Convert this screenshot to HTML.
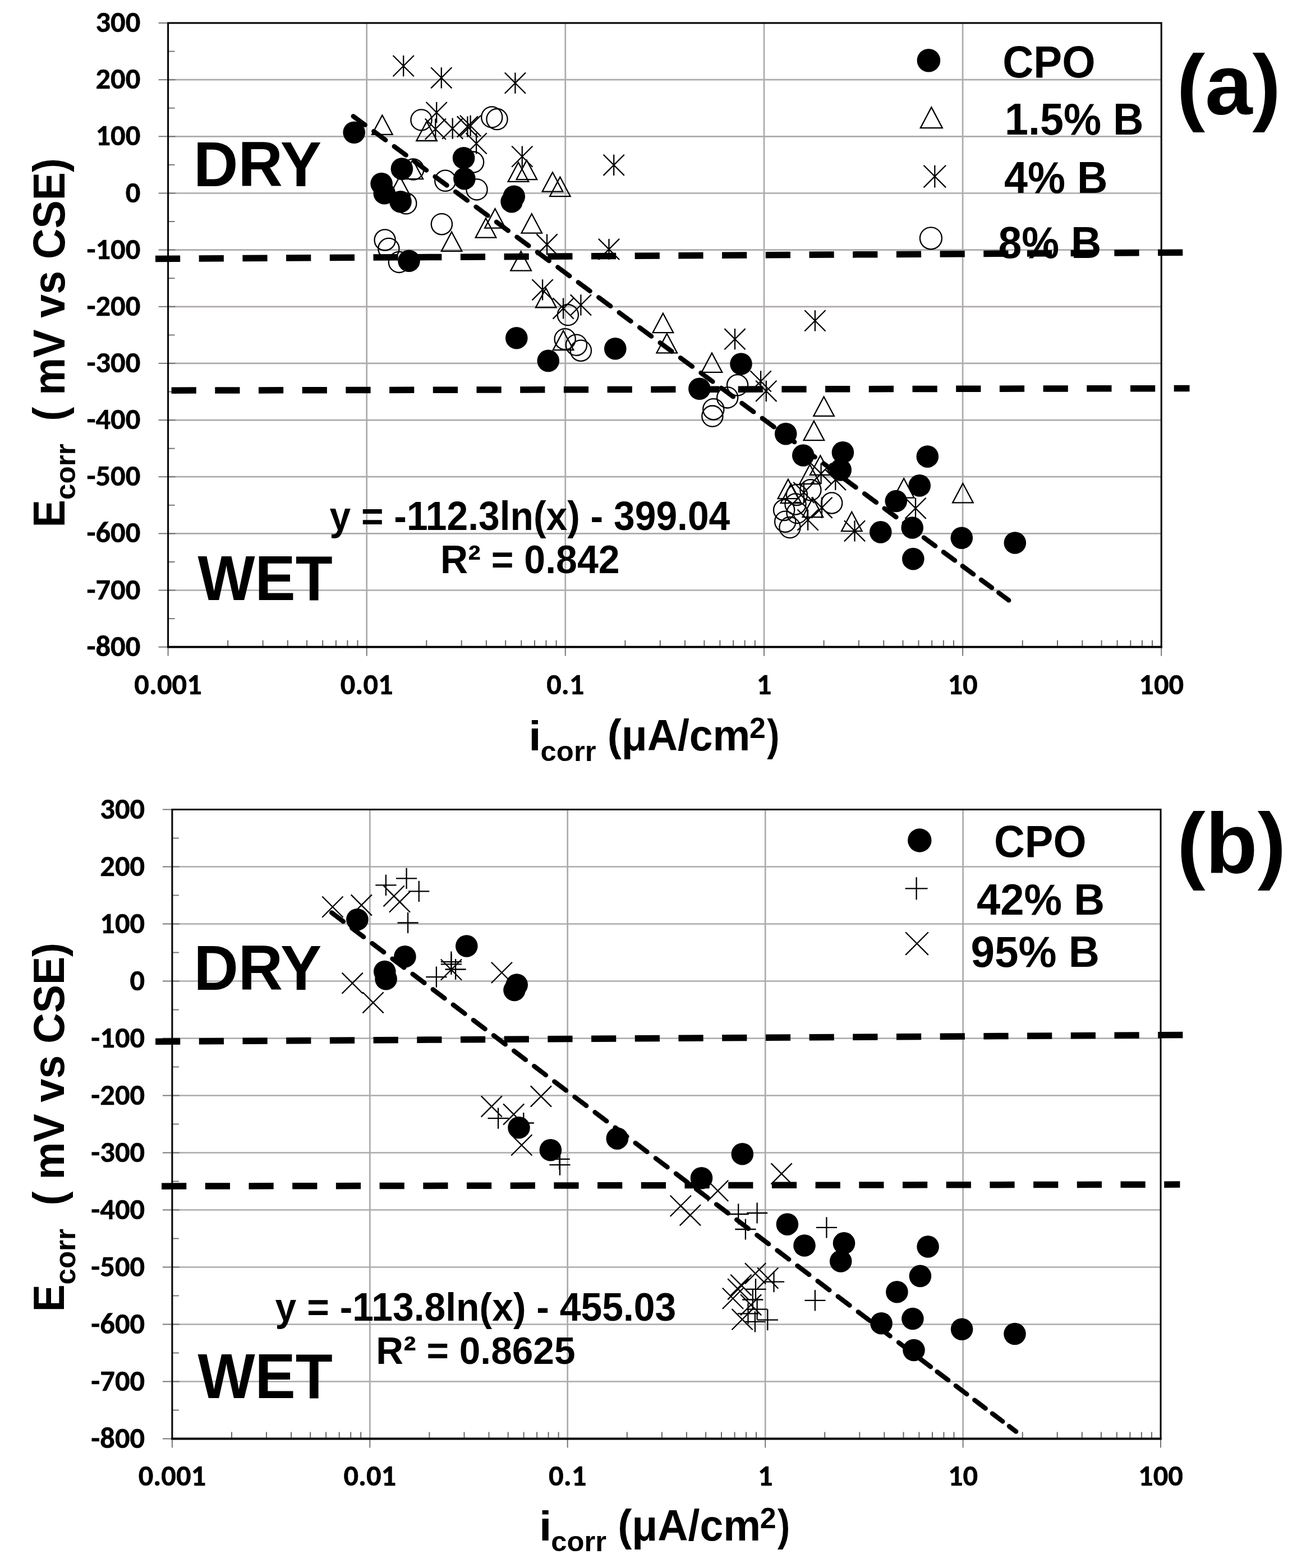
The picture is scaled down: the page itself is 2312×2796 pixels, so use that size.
<!DOCTYPE html><html><head><meta charset="utf-8"><title>Ecorr vs icorr</title><style>html,body{margin:0;padding:0;background:#fff;overflow:hidden}svg{display:block}text{font-weight:bold;fill:#000}.t{font-family:Carlito,"Liberation Sans",sans-serif;font-size:52.5px;stroke:#000;stroke-width:0.55px}.a{font-family:"Liberation Sans",Arial,sans-serif}</style></head><body>
<svg width="2312" height="2796" viewBox="0 0 2312 2796">
<rect width="2312" height="2796" fill="#fff"/>
<line x1="299.6" y1="41" x2="2070.2" y2="41" stroke="#adaaaa" stroke-width="2.7"/>
<line x1="299.6" y1="142.2" x2="2070.2" y2="142.2" stroke="#adaaaa" stroke-width="2.7"/>
<line x1="299.6" y1="243.3" x2="2070.2" y2="243.3" stroke="#adaaaa" stroke-width="2.7"/>
<line x1="299.6" y1="344.5" x2="2070.2" y2="344.5" stroke="#adaaaa" stroke-width="2.7"/>
<line x1="299.6" y1="445.6" x2="2070.2" y2="445.6" stroke="#adaaaa" stroke-width="2.7"/>
<line x1="299.6" y1="546.8" x2="2070.2" y2="546.8" stroke="#adaaaa" stroke-width="2.7"/>
<line x1="299.6" y1="647.9" x2="2070.2" y2="647.9" stroke="#adaaaa" stroke-width="2.7"/>
<line x1="299.6" y1="749.1" x2="2070.2" y2="749.1" stroke="#adaaaa" stroke-width="2.7"/>
<line x1="299.6" y1="850.2" x2="2070.2" y2="850.2" stroke="#adaaaa" stroke-width="2.7"/>
<line x1="299.6" y1="951.4" x2="2070.2" y2="951.4" stroke="#adaaaa" stroke-width="2.7"/>
<line x1="299.6" y1="1052.5" x2="2070.2" y2="1052.5" stroke="#adaaaa" stroke-width="2.7"/>
<line x1="653.7" y1="41" x2="653.7" y2="1153.7" stroke="#adaaaa" stroke-width="2.7"/>
<line x1="1007.8" y1="41" x2="1007.8" y2="1153.7" stroke="#adaaaa" stroke-width="2.7"/>
<line x1="1362" y1="41" x2="1362" y2="1153.7" stroke="#adaaaa" stroke-width="2.7"/>
<line x1="1716.1" y1="41" x2="1716.1" y2="1153.7" stroke="#adaaaa" stroke-width="2.7"/>
<line x1="282.6" y1="41" x2="312.6" y2="41" stroke="#777" stroke-width="2"/>
<line x1="299.6" y1="91.6" x2="311.6" y2="91.6" stroke="#777" stroke-width="2"/>
<line x1="282.6" y1="142.2" x2="312.6" y2="142.2" stroke="#777" stroke-width="2"/>
<line x1="299.6" y1="192.7" x2="311.6" y2="192.7" stroke="#777" stroke-width="2"/>
<line x1="282.6" y1="243.3" x2="312.6" y2="243.3" stroke="#777" stroke-width="2"/>
<line x1="299.6" y1="293.9" x2="311.6" y2="293.9" stroke="#777" stroke-width="2"/>
<line x1="282.6" y1="344.5" x2="312.6" y2="344.5" stroke="#777" stroke-width="2"/>
<line x1="299.6" y1="395" x2="311.6" y2="395" stroke="#777" stroke-width="2"/>
<line x1="282.6" y1="445.6" x2="312.6" y2="445.6" stroke="#777" stroke-width="2"/>
<line x1="299.6" y1="496.2" x2="311.6" y2="496.2" stroke="#777" stroke-width="2"/>
<line x1="282.6" y1="546.8" x2="312.6" y2="546.8" stroke="#777" stroke-width="2"/>
<line x1="299.6" y1="597.4" x2="311.6" y2="597.4" stroke="#777" stroke-width="2"/>
<line x1="282.6" y1="647.9" x2="312.6" y2="647.9" stroke="#777" stroke-width="2"/>
<line x1="299.6" y1="698.5" x2="311.6" y2="698.5" stroke="#777" stroke-width="2"/>
<line x1="282.6" y1="749.1" x2="312.6" y2="749.1" stroke="#777" stroke-width="2"/>
<line x1="299.6" y1="799.7" x2="311.6" y2="799.7" stroke="#777" stroke-width="2"/>
<line x1="282.6" y1="850.2" x2="312.6" y2="850.2" stroke="#777" stroke-width="2"/>
<line x1="299.6" y1="900.8" x2="311.6" y2="900.8" stroke="#777" stroke-width="2"/>
<line x1="282.6" y1="951.4" x2="312.6" y2="951.4" stroke="#777" stroke-width="2"/>
<line x1="299.6" y1="1002" x2="311.6" y2="1002" stroke="#777" stroke-width="2"/>
<line x1="282.6" y1="1052.5" x2="312.6" y2="1052.5" stroke="#777" stroke-width="2"/>
<line x1="299.6" y1="1103.1" x2="311.6" y2="1103.1" stroke="#777" stroke-width="2"/>
<line x1="282.6" y1="1153.7" x2="312.6" y2="1153.7" stroke="#777" stroke-width="2"/>
<line x1="299.6" y1="1153.7" x2="299.6" y2="1169.7" stroke="#777" stroke-width="2"/>
<line x1="406.2" y1="1153.7" x2="406.2" y2="1141.7" stroke="#666" stroke-width="2"/>
<line x1="468.6" y1="1153.7" x2="468.6" y2="1141.7" stroke="#666" stroke-width="2"/>
<line x1="512.8" y1="1153.7" x2="512.8" y2="1141.7" stroke="#666" stroke-width="2"/>
<line x1="547.1" y1="1153.7" x2="547.1" y2="1141.7" stroke="#666" stroke-width="2"/>
<line x1="575.2" y1="1153.7" x2="575.2" y2="1141.7" stroke="#666" stroke-width="2"/>
<line x1="598.9" y1="1153.7" x2="598.9" y2="1141.7" stroke="#666" stroke-width="2"/>
<line x1="619.4" y1="1153.7" x2="619.4" y2="1141.7" stroke="#666" stroke-width="2"/>
<line x1="637.5" y1="1153.7" x2="637.5" y2="1141.7" stroke="#666" stroke-width="2"/>
<line x1="653.7" y1="1153.7" x2="653.7" y2="1169.7" stroke="#777" stroke-width="2"/>
<line x1="760.3" y1="1153.7" x2="760.3" y2="1141.7" stroke="#666" stroke-width="2"/>
<line x1="822.7" y1="1153.7" x2="822.7" y2="1141.7" stroke="#666" stroke-width="2"/>
<line x1="866.9" y1="1153.7" x2="866.9" y2="1141.7" stroke="#666" stroke-width="2"/>
<line x1="901.2" y1="1153.7" x2="901.2" y2="1141.7" stroke="#666" stroke-width="2"/>
<line x1="929.3" y1="1153.7" x2="929.3" y2="1141.7" stroke="#666" stroke-width="2"/>
<line x1="953" y1="1153.7" x2="953" y2="1141.7" stroke="#666" stroke-width="2"/>
<line x1="973.5" y1="1153.7" x2="973.5" y2="1141.7" stroke="#666" stroke-width="2"/>
<line x1="991.6" y1="1153.7" x2="991.6" y2="1141.7" stroke="#666" stroke-width="2"/>
<line x1="1007.8" y1="1153.7" x2="1007.8" y2="1169.7" stroke="#777" stroke-width="2"/>
<line x1="1114.4" y1="1153.7" x2="1114.4" y2="1141.7" stroke="#666" stroke-width="2"/>
<line x1="1176.8" y1="1153.7" x2="1176.8" y2="1141.7" stroke="#666" stroke-width="2"/>
<line x1="1221" y1="1153.7" x2="1221" y2="1141.7" stroke="#666" stroke-width="2"/>
<line x1="1255.4" y1="1153.7" x2="1255.4" y2="1141.7" stroke="#666" stroke-width="2"/>
<line x1="1283.4" y1="1153.7" x2="1283.4" y2="1141.7" stroke="#666" stroke-width="2"/>
<line x1="1307.1" y1="1153.7" x2="1307.1" y2="1141.7" stroke="#666" stroke-width="2"/>
<line x1="1327.6" y1="1153.7" x2="1327.6" y2="1141.7" stroke="#666" stroke-width="2"/>
<line x1="1345.8" y1="1153.7" x2="1345.8" y2="1141.7" stroke="#666" stroke-width="2"/>
<line x1="1362" y1="1153.7" x2="1362" y2="1169.7" stroke="#777" stroke-width="2"/>
<line x1="1468.6" y1="1153.7" x2="1468.6" y2="1141.7" stroke="#666" stroke-width="2"/>
<line x1="1530.9" y1="1153.7" x2="1530.9" y2="1141.7" stroke="#666" stroke-width="2"/>
<line x1="1575.2" y1="1153.7" x2="1575.2" y2="1141.7" stroke="#666" stroke-width="2"/>
<line x1="1609.5" y1="1153.7" x2="1609.5" y2="1141.7" stroke="#666" stroke-width="2"/>
<line x1="1637.5" y1="1153.7" x2="1637.5" y2="1141.7" stroke="#666" stroke-width="2"/>
<line x1="1661.2" y1="1153.7" x2="1661.2" y2="1141.7" stroke="#666" stroke-width="2"/>
<line x1="1681.8" y1="1153.7" x2="1681.8" y2="1141.7" stroke="#666" stroke-width="2"/>
<line x1="1699.9" y1="1153.7" x2="1699.9" y2="1141.7" stroke="#666" stroke-width="2"/>
<line x1="1716.1" y1="1153.7" x2="1716.1" y2="1169.7" stroke="#777" stroke-width="2"/>
<line x1="1822.7" y1="1153.7" x2="1822.7" y2="1141.7" stroke="#666" stroke-width="2"/>
<line x1="1885" y1="1153.7" x2="1885" y2="1141.7" stroke="#666" stroke-width="2"/>
<line x1="1929.3" y1="1153.7" x2="1929.3" y2="1141.7" stroke="#666" stroke-width="2"/>
<line x1="1963.6" y1="1153.7" x2="1963.6" y2="1141.7" stroke="#666" stroke-width="2"/>
<line x1="1991.6" y1="1153.7" x2="1991.6" y2="1141.7" stroke="#666" stroke-width="2"/>
<line x1="2015.3" y1="1153.7" x2="2015.3" y2="1141.7" stroke="#666" stroke-width="2"/>
<line x1="2035.9" y1="1153.7" x2="2035.9" y2="1141.7" stroke="#666" stroke-width="2"/>
<line x1="2054" y1="1153.7" x2="2054" y2="1141.7" stroke="#666" stroke-width="2"/>
<line x1="2070.2" y1="1153.7" x2="2070.2" y2="1169.7" stroke="#777" stroke-width="2"/>
<rect x="299.6" y="41" width="1770.6" height="1112.7" fill="none" stroke="#000" stroke-width="3"/>
<line x1="298.1" y1="1153.7" x2="2071.7" y2="1153.7" stroke="#000" stroke-width="3.8"/>
<text class="t" x="250.3" y="57" text-anchor="end" textLength="79.83" lengthAdjust="spacingAndGlyphs">300</text>
<text class="t" x="250.3" y="158.2" text-anchor="end" textLength="79.83" lengthAdjust="spacingAndGlyphs">200</text>
<text class="t" x="250.3" y="259.3" text-anchor="end" textLength="79.83" lengthAdjust="spacingAndGlyphs">100</text>
<text class="t" x="250.3" y="360.5" text-anchor="end" textLength="26.61" lengthAdjust="spacingAndGlyphs">0</text>
<text class="t" x="250.3" y="461.6" text-anchor="end" textLength="95.90" lengthAdjust="spacingAndGlyphs">-100</text>
<text class="t" x="250.3" y="562.8" text-anchor="end" textLength="95.90" lengthAdjust="spacingAndGlyphs">-200</text>
<text class="t" x="250.3" y="663.9" text-anchor="end" textLength="95.90" lengthAdjust="spacingAndGlyphs">-300</text>
<text class="t" x="250.3" y="765.1" text-anchor="end" textLength="95.90" lengthAdjust="spacingAndGlyphs">-400</text>
<text class="t" x="250.3" y="866.2" text-anchor="end" textLength="95.90" lengthAdjust="spacingAndGlyphs">-500</text>
<text class="t" x="250.3" y="967.4" text-anchor="end" textLength="95.90" lengthAdjust="spacingAndGlyphs">-600</text>
<text class="t" x="250.3" y="1068.5" text-anchor="end" textLength="95.90" lengthAdjust="spacingAndGlyphs">-700</text>
<text class="t" x="250.3" y="1169.7" text-anchor="end" textLength="95.90" lengthAdjust="spacingAndGlyphs">-800</text>
<text class="t" x="299.6" y="1238" text-anchor="middle" textLength="120.46" lengthAdjust="spacingAndGlyphs">0.001</text>
<text class="t" x="653.7" y="1238" text-anchor="middle" textLength="93.85" lengthAdjust="spacingAndGlyphs">0.01</text>
<text class="t" x="1007.8" y="1238" text-anchor="middle" textLength="67.24" lengthAdjust="spacingAndGlyphs">0.1</text>
<text class="t" x="1362" y="1238" text-anchor="middle" textLength="26.61" lengthAdjust="spacingAndGlyphs">1</text>
<text class="t" x="1716.1" y="1238" text-anchor="middle" textLength="53.22" lengthAdjust="spacingAndGlyphs">10</text>
<text class="t" x="2070.2" y="1238" text-anchor="middle" textLength="79.83" lengthAdjust="spacingAndGlyphs">100</text>
<circle cx="751" cy="213.9" r="18.6" fill="none" stroke="#000" stroke-width="2.3"/>
<circle cx="876.8" cy="208.9" r="18.6" fill="none" stroke="#000" stroke-width="2.3"/>
<circle cx="886" cy="212.6" r="18.6" fill="none" stroke="#000" stroke-width="2.3"/>
<circle cx="843.6" cy="289.1" r="18.6" fill="none" stroke="#000" stroke-width="2.3"/>
<circle cx="793.8" cy="322.3" r="18.6" fill="none" stroke="#000" stroke-width="2.3"/>
<circle cx="850" cy="337.9" r="18.6" fill="none" stroke="#000" stroke-width="2.3"/>
<circle cx="736.7" cy="302" r="18.6" fill="none" stroke="#000" stroke-width="2.3"/>
<circle cx="723.8" cy="362.8" r="18.6" fill="none" stroke="#000" stroke-width="2.3"/>
<circle cx="787.4" cy="399.7" r="18.6" fill="none" stroke="#000" stroke-width="2.3"/>
<circle cx="686.1" cy="428" r="18.6" fill="none" stroke="#000" stroke-width="2.3"/>
<circle cx="692.9" cy="443.5" r="18.6" fill="none" stroke="#000" stroke-width="2.3"/>
<circle cx="711.4" cy="467.4" r="18.6" fill="none" stroke="#000" stroke-width="2.3"/>
<circle cx="1012.4" cy="561.6" r="18.6" fill="none" stroke="#000" stroke-width="2.3"/>
<circle cx="1007.2" cy="604.7" r="18.6" fill="none" stroke="#000" stroke-width="2.3"/>
<circle cx="1027.4" cy="615.2" r="18.6" fill="none" stroke="#000" stroke-width="2.3"/>
<circle cx="1035.4" cy="625.2" r="18.6" fill="none" stroke="#000" stroke-width="2.3"/>
<circle cx="1314.6" cy="686.8" r="18.6" fill="none" stroke="#000" stroke-width="2.3"/>
<circle cx="1296.7" cy="708.9" r="18.6" fill="none" stroke="#000" stroke-width="2.3"/>
<circle cx="1271.8" cy="729.7" r="18.6" fill="none" stroke="#000" stroke-width="2.3"/>
<circle cx="1269.9" cy="742.1" r="18.6" fill="none" stroke="#000" stroke-width="2.3"/>
<circle cx="1444.9" cy="873.8" r="18.6" fill="none" stroke="#000" stroke-width="2.3"/>
<circle cx="1420.4" cy="882.5" r="18.6" fill="none" stroke="#000" stroke-width="2.3"/>
<circle cx="1418" cy="899" r="18.6" fill="none" stroke="#000" stroke-width="2.3"/>
<circle cx="1421" cy="914.6" r="18.6" fill="none" stroke="#000" stroke-width="2.3"/>
<circle cx="1397.6" cy="909.5" r="18.6" fill="none" stroke="#000" stroke-width="2.3"/>
<circle cx="1399.7" cy="930.2" r="18.6" fill="none" stroke="#000" stroke-width="2.3"/>
<circle cx="1408" cy="940.6" r="18.6" fill="none" stroke="#000" stroke-width="2.3"/>
<circle cx="1482.7" cy="897" r="18.6" fill="none" stroke="#000" stroke-width="2.3"/>
<path d="M681.4 205.5L699.7 239.9L663.1 239.9Z" fill="none" stroke="#000" stroke-width="2.3" stroke-miterlimit="10"/>
<path d="M760.6 216.6L778.9 251L742.3 251Z" fill="none" stroke="#000" stroke-width="2.3" stroke-miterlimit="10"/>
<path d="M735.8 284.8L754.1 319.2L717.5 319.2Z" fill="none" stroke="#000" stroke-width="2.3" stroke-miterlimit="10"/>
<path d="M712.7 314.3L731 348.7L694.4 348.7Z" fill="none" stroke="#000" stroke-width="2.3" stroke-miterlimit="10"/>
<path d="M882.5 372.3L900.8 406.7L864.2 406.7Z" fill="none" stroke="#000" stroke-width="2.3" stroke-miterlimit="10"/>
<path d="M866 389.2L884.3 423.6L847.7 423.6Z" fill="none" stroke="#000" stroke-width="2.3" stroke-miterlimit="10"/>
<path d="M924 289.5L942.3 323.9L905.7 323.9Z" fill="none" stroke="#000" stroke-width="2.3" stroke-miterlimit="10"/>
<path d="M938.9 285.8L957.2 320.2L920.6 320.2Z" fill="none" stroke="#000" stroke-width="2.3" stroke-miterlimit="10"/>
<path d="M985 307.3L1003.3 341.7L966.7 341.7Z" fill="none" stroke="#000" stroke-width="2.3" stroke-miterlimit="10"/>
<path d="M998.4 315.8L1016.7 350.2L980.1 350.2Z" fill="none" stroke="#000" stroke-width="2.3" stroke-miterlimit="10"/>
<path d="M947.8 381.2L966.1 415.6L929.5 415.6Z" fill="none" stroke="#000" stroke-width="2.3" stroke-miterlimit="10"/>
<path d="M805.1 413.5L823.4 447.9L786.8 447.9Z" fill="none" stroke="#000" stroke-width="2.3" stroke-miterlimit="10"/>
<path d="M928.7 448.3L947 482.7L910.4 482.7Z" fill="none" stroke="#000" stroke-width="2.3" stroke-miterlimit="10"/>
<path d="M973.2 514L991.5 548.4L954.9 548.4Z" fill="none" stroke="#000" stroke-width="2.3" stroke-miterlimit="10"/>
<path d="M1004.1 589.7L1022.4 624.1L985.8 624.1Z" fill="none" stroke="#000" stroke-width="2.3" stroke-miterlimit="10"/>
<path d="M1181.9 558.7L1200.2 593.1L1163.6 593.1Z" fill="none" stroke="#000" stroke-width="2.3" stroke-miterlimit="10"/>
<path d="M1188.8 595L1207.1 629.4L1170.5 629.4Z" fill="none" stroke="#000" stroke-width="2.3" stroke-miterlimit="10"/>
<path d="M1269 629.5L1287.3 663.9L1250.7 663.9Z" fill="none" stroke="#000" stroke-width="2.3" stroke-miterlimit="10"/>
<path d="M1468.6 707.5L1486.9 741.9L1450.3 741.9Z" fill="none" stroke="#000" stroke-width="2.3" stroke-miterlimit="10"/>
<path d="M1450.9 750.8L1469.2 785.2L1432.6 785.2Z" fill="none" stroke="#000" stroke-width="2.3" stroke-miterlimit="10"/>
<path d="M1611.2 853.3L1629.5 887.7L1592.9 887.7Z" fill="none" stroke="#000" stroke-width="2.3" stroke-miterlimit="10"/>
<path d="M1716.4 862L1734.7 896.4L1698.1 896.4Z" fill="none" stroke="#000" stroke-width="2.3" stroke-miterlimit="10"/>
<path d="M1518.3 912.8L1536.6 947.2L1500 947.2Z" fill="none" stroke="#000" stroke-width="2.3" stroke-miterlimit="10"/>
<path d="M1462.3 812.4L1480.6 846.8L1444 846.8Z" fill="none" stroke="#000" stroke-width="2.3" stroke-miterlimit="10"/>
<path d="M1443.7 828.4L1462 862.8L1425.4 862.8Z" fill="none" stroke="#000" stroke-width="2.3" stroke-miterlimit="10"/>
<path d="M1404.9 854.7L1423.2 889.1L1386.6 889.1Z" fill="none" stroke="#000" stroke-width="2.3" stroke-miterlimit="10"/>
<path d="M1410 862.8L1428.3 897.2L1391.7 897.2Z" fill="none" stroke="#000" stroke-width="2.3" stroke-miterlimit="10"/>
<path d="M1448.9 887.7L1467.2 922.1L1430.6 922.1Z" fill="none" stroke="#000" stroke-width="2.3" stroke-miterlimit="10"/>
<path d="M719.2 99V136.2M700.6 99L737.8 136.2M700.6 136.2L737.8 99" fill="none" stroke="#000" stroke-width="2.3"/>
<path d="M786.8 120.2V157.4M768.2 120.2L805.4 157.4M768.2 157.4L805.4 120.2" fill="none" stroke="#000" stroke-width="2.3"/>
<path d="M778.2 182V219.2M759.6 182L796.8 219.2M759.6 219.2L796.8 182" fill="none" stroke="#000" stroke-width="2.3"/>
<path d="M776.3 211.5V248.7M757.7 211.5L794.9 248.7M757.7 248.7L794.9 211.5" fill="none" stroke="#000" stroke-width="2.3"/>
<path d="M806.7 210.6V247.8M788.1 210.6L825.3 247.8M788.1 247.8L825.3 210.6" fill="none" stroke="#000" stroke-width="2.3"/>
<path d="M838.6 205.8V243M820 205.8L857.2 243M820 243L857.2 205.8" fill="none" stroke="#000" stroke-width="2.3"/>
<path d="M833.4 207.4V244.6M814.8 207.4L852 244.6M814.8 244.6L852 207.4" fill="none" stroke="#000" stroke-width="2.3"/>
<path d="M849.1 237.3V274.5M830.5 237.3L867.7 274.5M830.5 274.5L867.7 237.3" fill="none" stroke="#000" stroke-width="2.3"/>
<path d="M918.4 129.5V166.7M899.8 129.5L937 166.7M899.8 166.7L937 129.5" fill="none" stroke="#000" stroke-width="2.3"/>
<path d="M930.8 260.5V297.7M912.2 260.5L949.4 297.7M912.2 297.7L949.4 260.5" fill="none" stroke="#000" stroke-width="2.3"/>
<path d="M1094.2 275.7V312.9M1075.6 275.7L1112.8 312.9M1075.6 312.9L1112.8 275.7" fill="none" stroke="#000" stroke-width="2.3"/>
<path d="M975 417.4V454.6M956.4 417.4L993.6 454.6M956.4 454.6L993.6 417.4" fill="none" stroke="#000" stroke-width="2.3"/>
<path d="M1085.5 425.9V463.1M1066.9 425.9L1104.1 463.1M1066.9 463.1L1104.1 425.9" fill="none" stroke="#000" stroke-width="2.3"/>
<path d="M967.1 498.2V535.4M948.5 498.2L985.7 535.4M948.5 535.4L985.7 498.2" fill="none" stroke="#000" stroke-width="2.3"/>
<path d="M1004.1 531.4V568.6M985.5 531.4L1022.7 568.6M985.5 568.6L1022.7 531.4" fill="none" stroke="#000" stroke-width="2.3"/>
<path d="M1035.4 525.3V562.5M1016.8 525.3L1054 562.5M1016.8 562.5L1054 525.3" fill="none" stroke="#000" stroke-width="2.3"/>
<path d="M1310 586.1V623.3M1291.4 586.1L1328.6 623.3M1291.4 623.3L1328.6 586.1" fill="none" stroke="#000" stroke-width="2.3"/>
<path d="M1356.1 661.3V698.5M1337.5 661.3L1374.7 698.5M1337.5 698.5L1374.7 661.3" fill="none" stroke="#000" stroke-width="2.3"/>
<path d="M1365.8 678.7V715.9M1347.2 678.7L1384.4 715.9M1347.2 715.9L1384.4 678.7" fill="none" stroke="#000" stroke-width="2.3"/>
<path d="M1452.9 553.3V590.5M1434.3 553.3L1471.5 590.5M1434.3 590.5L1471.5 553.3" fill="none" stroke="#000" stroke-width="2.3"/>
<path d="M1463.6 825.9V863.1M1445 825.9L1482.2 863.1M1445 863.1L1482.2 825.9" fill="none" stroke="#000" stroke-width="2.3"/>
<path d="M1489.3 836.9V874.1M1470.7 836.9L1507.9 874.1M1470.7 874.1L1507.9 836.9" fill="none" stroke="#000" stroke-width="2.3"/>
<path d="M1432.9 859.7V896.9M1414.3 859.7L1451.5 896.9M1414.3 896.9L1451.5 859.7" fill="none" stroke="#000" stroke-width="2.3"/>
<path d="M1440.1 908.5V945.7M1421.5 908.5L1458.7 945.7M1421.5 945.7L1458.7 908.5" fill="none" stroke="#000" stroke-width="2.3"/>
<path d="M1465 886.7V923.9M1446.4 886.7L1483.6 923.9M1446.4 923.9L1483.6 886.7" fill="none" stroke="#000" stroke-width="2.3"/>
<path d="M1632 887.7V924.9M1613.4 887.7L1650.6 924.9M1613.4 924.9L1650.6 887.7" fill="none" stroke="#000" stroke-width="2.3"/>
<path d="M1523.5 928.2V965.4M1504.9 928.2L1542.1 965.4M1504.9 965.4L1542.1 928.2" fill="none" stroke="#000" stroke-width="2.3"/>
<circle cx="631.2" cy="236.2" r="19.8" fill="#000"/>
<circle cx="716.4" cy="301.1" r="19.8" fill="#000"/>
<circle cx="680.1" cy="327.5" r="19.8" fill="#000"/>
<circle cx="685.3" cy="344.7" r="19.8" fill="#000"/>
<circle cx="714" cy="359.7" r="19.8" fill="#000"/>
<circle cx="826.6" cy="281.7" r="19.8" fill="#000"/>
<circle cx="827.9" cy="318.6" r="19.8" fill="#000"/>
<circle cx="916.3" cy="350.3" r="19.8" fill="#000"/>
<circle cx="912.1" cy="359.6" r="19.8" fill="#000"/>
<circle cx="729" cy="465.3" r="19.8" fill="#000"/>
<circle cx="920.8" cy="602.8" r="19.8" fill="#000"/>
<circle cx="977.3" cy="643.4" r="19.8" fill="#000"/>
<circle cx="1096.8" cy="621.8" r="19.8" fill="#000"/>
<circle cx="1321" cy="649" r="19.8" fill="#000"/>
<circle cx="1246.9" cy="693.2" r="19.8" fill="#000"/>
<circle cx="1400.7" cy="773.6" r="19.8" fill="#000"/>
<circle cx="1431.8" cy="812" r="19.8" fill="#000"/>
<circle cx="1502.4" cy="806.8" r="19.8" fill="#000"/>
<circle cx="1498.2" cy="837.9" r="19.8" fill="#000"/>
<circle cx="1653.3" cy="814.1" r="19.8" fill="#000"/>
<circle cx="1639.2" cy="865.9" r="19.8" fill="#000"/>
<circle cx="1597.3" cy="893.5" r="19.8" fill="#000"/>
<circle cx="1569.8" cy="948.9" r="19.8" fill="#000"/>
<circle cx="1626.2" cy="941" r="19.8" fill="#000"/>
<circle cx="1714.3" cy="959.2" r="19.8" fill="#000"/>
<circle cx="1627.8" cy="996.6" r="19.8" fill="#000"/>
<circle cx="1809.3" cy="968" r="19.8" fill="#000"/>
<path d="M629.8 207.3L650.8 222.8M666.3 234.2L687.2 249.7M702.7 261.2L723.7 276.7M739.2 288.1L760.1 303.6M775.6 315L796.6 330.5M812.1 341.9L833 357.4M848.5 368.9L869.5 384.4M885 395.8L905.9 411.3M921.4 422.7L942.4 438.2M957.9 449.6L978.8 465.1M994.3 476.5L1015.3 492.1M1030.8 503.5L1051.7 519M1067.2 530.4L1088.2 545.9M1103.7 557.3L1124.6 572.8M1140.1 584.2L1161.1 599.7M1176.6 611.2L1197.5 626.7M1213 638.1L1234 653.6M1249.5 665L1270.4 680.5M1285.9 691.9L1306.9 707.4M1322.4 718.9L1343.3 734.4M1358.8 745.8L1379.8 761.3M1395.3 772.7L1416.2 788.2M1431.7 799.6L1452.7 815.1M1468.2 826.5L1489.1 842.1M1504.6 853.5L1525.6 869M1541.1 880.4L1562 895.9M1576.6 906.7L1597.4 922M1611.9 932.8L1632.1 947.6M1646.9 958.6L1667.1 973.5M1681.9 984.5L1702.1 999.3M1715.8 1009.5L1735.2 1023.8M1749 1034L1768 1048M1780.2 1057L1798.2 1070.4" fill="none" stroke="#000" stroke-width="8.4" stroke-linecap="round"/>
<line x1="277" y1="461.5" x2="2108.6" y2="450.3" stroke="#000" stroke-width="11.5" stroke-dasharray="44.2 33.5"/>
<line x1="305.6" y1="696.2" x2="2120.5" y2="692.5" stroke="#000" stroke-width="11.5" stroke-dasharray="44.2 33.5"/>
<line x1="306.9" y1="1443.5" x2="2069" y2="1443.5" stroke="#adaaaa" stroke-width="2.7"/>
<line x1="306.9" y1="1545.5" x2="2069" y2="1545.5" stroke="#adaaaa" stroke-width="2.7"/>
<line x1="306.9" y1="1647.5" x2="2069" y2="1647.5" stroke="#adaaaa" stroke-width="2.7"/>
<line x1="306.9" y1="1749.5" x2="2069" y2="1749.5" stroke="#adaaaa" stroke-width="2.7"/>
<line x1="306.9" y1="1851.5" x2="2069" y2="1851.5" stroke="#adaaaa" stroke-width="2.7"/>
<line x1="306.9" y1="1953.5" x2="2069" y2="1953.5" stroke="#adaaaa" stroke-width="2.7"/>
<line x1="306.9" y1="2055.5" x2="2069" y2="2055.5" stroke="#adaaaa" stroke-width="2.7"/>
<line x1="306.9" y1="2157.5" x2="2069" y2="2157.5" stroke="#adaaaa" stroke-width="2.7"/>
<line x1="306.9" y1="2259.5" x2="2069" y2="2259.5" stroke="#adaaaa" stroke-width="2.7"/>
<line x1="306.9" y1="2361.5" x2="2069" y2="2361.5" stroke="#adaaaa" stroke-width="2.7"/>
<line x1="306.9" y1="2463.5" x2="2069" y2="2463.5" stroke="#adaaaa" stroke-width="2.7"/>
<line x1="659.3" y1="1443.5" x2="659.3" y2="2565.5" stroke="#adaaaa" stroke-width="2.7"/>
<line x1="1011.7" y1="1443.5" x2="1011.7" y2="2565.5" stroke="#adaaaa" stroke-width="2.7"/>
<line x1="1364.2" y1="1443.5" x2="1364.2" y2="2565.5" stroke="#adaaaa" stroke-width="2.7"/>
<line x1="1716.6" y1="1443.5" x2="1716.6" y2="2565.5" stroke="#adaaaa" stroke-width="2.7"/>
<line x1="289.9" y1="1443.5" x2="319.9" y2="1443.5" stroke="#777" stroke-width="2"/>
<line x1="306.9" y1="1494.5" x2="318.9" y2="1494.5" stroke="#777" stroke-width="2"/>
<line x1="289.9" y1="1545.5" x2="319.9" y2="1545.5" stroke="#777" stroke-width="2"/>
<line x1="306.9" y1="1596.5" x2="318.9" y2="1596.5" stroke="#777" stroke-width="2"/>
<line x1="289.9" y1="1647.5" x2="319.9" y2="1647.5" stroke="#777" stroke-width="2"/>
<line x1="306.9" y1="1698.5" x2="318.9" y2="1698.5" stroke="#777" stroke-width="2"/>
<line x1="289.9" y1="1749.5" x2="319.9" y2="1749.5" stroke="#777" stroke-width="2"/>
<line x1="306.9" y1="1800.5" x2="318.9" y2="1800.5" stroke="#777" stroke-width="2"/>
<line x1="289.9" y1="1851.5" x2="319.9" y2="1851.5" stroke="#777" stroke-width="2"/>
<line x1="306.9" y1="1902.5" x2="318.9" y2="1902.5" stroke="#777" stroke-width="2"/>
<line x1="289.9" y1="1953.5" x2="319.9" y2="1953.5" stroke="#777" stroke-width="2"/>
<line x1="306.9" y1="2004.5" x2="318.9" y2="2004.5" stroke="#777" stroke-width="2"/>
<line x1="289.9" y1="2055.5" x2="319.9" y2="2055.5" stroke="#777" stroke-width="2"/>
<line x1="306.9" y1="2106.5" x2="318.9" y2="2106.5" stroke="#777" stroke-width="2"/>
<line x1="289.9" y1="2157.5" x2="319.9" y2="2157.5" stroke="#777" stroke-width="2"/>
<line x1="306.9" y1="2208.5" x2="318.9" y2="2208.5" stroke="#777" stroke-width="2"/>
<line x1="289.9" y1="2259.5" x2="319.9" y2="2259.5" stroke="#777" stroke-width="2"/>
<line x1="306.9" y1="2310.5" x2="318.9" y2="2310.5" stroke="#777" stroke-width="2"/>
<line x1="289.9" y1="2361.5" x2="319.9" y2="2361.5" stroke="#777" stroke-width="2"/>
<line x1="306.9" y1="2412.5" x2="318.9" y2="2412.5" stroke="#777" stroke-width="2"/>
<line x1="289.9" y1="2463.5" x2="319.9" y2="2463.5" stroke="#777" stroke-width="2"/>
<line x1="306.9" y1="2514.5" x2="318.9" y2="2514.5" stroke="#777" stroke-width="2"/>
<line x1="289.9" y1="2565.5" x2="319.9" y2="2565.5" stroke="#777" stroke-width="2"/>
<line x1="306.9" y1="2565.5" x2="306.9" y2="2581.5" stroke="#777" stroke-width="2"/>
<line x1="413" y1="2565.5" x2="413" y2="2553.5" stroke="#666" stroke-width="2"/>
<line x1="475" y1="2565.5" x2="475" y2="2553.5" stroke="#666" stroke-width="2"/>
<line x1="519.1" y1="2565.5" x2="519.1" y2="2553.5" stroke="#666" stroke-width="2"/>
<line x1="553.2" y1="2565.5" x2="553.2" y2="2553.5" stroke="#666" stroke-width="2"/>
<line x1="581.1" y1="2565.5" x2="581.1" y2="2553.5" stroke="#666" stroke-width="2"/>
<line x1="604.7" y1="2565.5" x2="604.7" y2="2553.5" stroke="#666" stroke-width="2"/>
<line x1="625.2" y1="2565.5" x2="625.2" y2="2553.5" stroke="#666" stroke-width="2"/>
<line x1="643.2" y1="2565.5" x2="643.2" y2="2553.5" stroke="#666" stroke-width="2"/>
<line x1="659.3" y1="2565.5" x2="659.3" y2="2581.5" stroke="#777" stroke-width="2"/>
<line x1="765.4" y1="2565.5" x2="765.4" y2="2553.5" stroke="#666" stroke-width="2"/>
<line x1="827.5" y1="2565.5" x2="827.5" y2="2553.5" stroke="#666" stroke-width="2"/>
<line x1="871.5" y1="2565.5" x2="871.5" y2="2553.5" stroke="#666" stroke-width="2"/>
<line x1="905.7" y1="2565.5" x2="905.7" y2="2553.5" stroke="#666" stroke-width="2"/>
<line x1="933.6" y1="2565.5" x2="933.6" y2="2553.5" stroke="#666" stroke-width="2"/>
<line x1="957.1" y1="2565.5" x2="957.1" y2="2553.5" stroke="#666" stroke-width="2"/>
<line x1="977.6" y1="2565.5" x2="977.6" y2="2553.5" stroke="#666" stroke-width="2"/>
<line x1="995.6" y1="2565.5" x2="995.6" y2="2553.5" stroke="#666" stroke-width="2"/>
<line x1="1011.7" y1="2565.5" x2="1011.7" y2="2581.5" stroke="#777" stroke-width="2"/>
<line x1="1117.8" y1="2565.5" x2="1117.8" y2="2553.5" stroke="#666" stroke-width="2"/>
<line x1="1179.9" y1="2565.5" x2="1179.9" y2="2553.5" stroke="#666" stroke-width="2"/>
<line x1="1223.9" y1="2565.5" x2="1223.9" y2="2553.5" stroke="#666" stroke-width="2"/>
<line x1="1258.1" y1="2565.5" x2="1258.1" y2="2553.5" stroke="#666" stroke-width="2"/>
<line x1="1286" y1="2565.5" x2="1286" y2="2553.5" stroke="#666" stroke-width="2"/>
<line x1="1309.6" y1="2565.5" x2="1309.6" y2="2553.5" stroke="#666" stroke-width="2"/>
<line x1="1330" y1="2565.5" x2="1330" y2="2553.5" stroke="#666" stroke-width="2"/>
<line x1="1348" y1="2565.5" x2="1348" y2="2553.5" stroke="#666" stroke-width="2"/>
<line x1="1364.2" y1="2565.5" x2="1364.2" y2="2581.5" stroke="#777" stroke-width="2"/>
<line x1="1470.2" y1="2565.5" x2="1470.2" y2="2553.5" stroke="#666" stroke-width="2"/>
<line x1="1532.3" y1="2565.5" x2="1532.3" y2="2553.5" stroke="#666" stroke-width="2"/>
<line x1="1576.3" y1="2565.5" x2="1576.3" y2="2553.5" stroke="#666" stroke-width="2"/>
<line x1="1610.5" y1="2565.5" x2="1610.5" y2="2553.5" stroke="#666" stroke-width="2"/>
<line x1="1638.4" y1="2565.5" x2="1638.4" y2="2553.5" stroke="#666" stroke-width="2"/>
<line x1="1662" y1="2565.5" x2="1662" y2="2553.5" stroke="#666" stroke-width="2"/>
<line x1="1682.4" y1="2565.5" x2="1682.4" y2="2553.5" stroke="#666" stroke-width="2"/>
<line x1="1700.5" y1="2565.5" x2="1700.5" y2="2553.5" stroke="#666" stroke-width="2"/>
<line x1="1716.6" y1="2565.5" x2="1716.6" y2="2581.5" stroke="#777" stroke-width="2"/>
<line x1="1822.7" y1="2565.5" x2="1822.7" y2="2553.5" stroke="#666" stroke-width="2"/>
<line x1="1884.7" y1="2565.5" x2="1884.7" y2="2553.5" stroke="#666" stroke-width="2"/>
<line x1="1928.8" y1="2565.5" x2="1928.8" y2="2553.5" stroke="#666" stroke-width="2"/>
<line x1="1962.9" y1="2565.5" x2="1962.9" y2="2553.5" stroke="#666" stroke-width="2"/>
<line x1="1990.8" y1="2565.5" x2="1990.8" y2="2553.5" stroke="#666" stroke-width="2"/>
<line x1="2014.4" y1="2565.5" x2="2014.4" y2="2553.5" stroke="#666" stroke-width="2"/>
<line x1="2034.8" y1="2565.5" x2="2034.8" y2="2553.5" stroke="#666" stroke-width="2"/>
<line x1="2052.9" y1="2565.5" x2="2052.9" y2="2553.5" stroke="#666" stroke-width="2"/>
<line x1="2069" y1="2565.5" x2="2069" y2="2581.5" stroke="#777" stroke-width="2"/>
<rect x="306.9" y="1443.5" width="1762.1" height="1122" fill="none" stroke="#000" stroke-width="3"/>
<line x1="305.4" y1="2565.5" x2="2070.5" y2="2565.5" stroke="#000" stroke-width="3.8"/>
<text class="t" x="258.2" y="1459.5" text-anchor="end" textLength="79.83" lengthAdjust="spacingAndGlyphs">300</text>
<text class="t" x="258.2" y="1561.5" text-anchor="end" textLength="79.83" lengthAdjust="spacingAndGlyphs">200</text>
<text class="t" x="258.2" y="1663.5" text-anchor="end" textLength="79.83" lengthAdjust="spacingAndGlyphs">100</text>
<text class="t" x="258.2" y="1765.5" text-anchor="end" textLength="26.61" lengthAdjust="spacingAndGlyphs">0</text>
<text class="t" x="258.2" y="1867.5" text-anchor="end" textLength="95.90" lengthAdjust="spacingAndGlyphs">-100</text>
<text class="t" x="258.2" y="1969.5" text-anchor="end" textLength="95.90" lengthAdjust="spacingAndGlyphs">-200</text>
<text class="t" x="258.2" y="2071.5" text-anchor="end" textLength="95.90" lengthAdjust="spacingAndGlyphs">-300</text>
<text class="t" x="258.2" y="2173.5" text-anchor="end" textLength="95.90" lengthAdjust="spacingAndGlyphs">-400</text>
<text class="t" x="258.2" y="2275.5" text-anchor="end" textLength="95.90" lengthAdjust="spacingAndGlyphs">-500</text>
<text class="t" x="258.2" y="2377.5" text-anchor="end" textLength="95.90" lengthAdjust="spacingAndGlyphs">-600</text>
<text class="t" x="258.2" y="2479.5" text-anchor="end" textLength="95.90" lengthAdjust="spacingAndGlyphs">-700</text>
<text class="t" x="258.2" y="2581.5" text-anchor="end" textLength="95.90" lengthAdjust="spacingAndGlyphs">-800</text>
<text class="t" x="306.9" y="2649.2" text-anchor="middle" textLength="120.46" lengthAdjust="spacingAndGlyphs">0.001</text>
<text class="t" x="659.3" y="2649.2" text-anchor="middle" textLength="93.85" lengthAdjust="spacingAndGlyphs">0.01</text>
<text class="t" x="1011.7" y="2649.2" text-anchor="middle" textLength="67.24" lengthAdjust="spacingAndGlyphs">0.1</text>
<text class="t" x="1364.2" y="2649.2" text-anchor="middle" textLength="26.61" lengthAdjust="spacingAndGlyphs">1</text>
<text class="t" x="1716.6" y="2649.2" text-anchor="middle" textLength="53.22" lengthAdjust="spacingAndGlyphs">10</text>
<text class="t" x="2069" y="2649.2" text-anchor="middle" textLength="79.83" lengthAdjust="spacingAndGlyphs">100</text>
<path d="M687.9 1559.7V1596.9M669.3 1578.3H706.5" fill="none" stroke="#000" stroke-width="2.3"/>
<path d="M724.6 1547.7V1584.9M706 1566.3H743.2" fill="none" stroke="#000" stroke-width="2.3"/>
<path d="M746.8 1570.7V1607.9M728.2 1589.3H765.4" fill="none" stroke="#000" stroke-width="2.3"/>
<path d="M727.1 1626.9V1664.1M708.5 1645.5H745.7" fill="none" stroke="#000" stroke-width="2.3"/>
<path d="M777.9 1723.6V1760.8M759.3 1742.2H796.5" fill="none" stroke="#000" stroke-width="2.3"/>
<path d="M804.4 1696.6V1733.8M785.8 1715.2H823" fill="none" stroke="#000" stroke-width="2.3"/>
<path d="M804.4 1700.7V1737.9M785.8 1719.3H823" fill="none" stroke="#000" stroke-width="2.3"/>
<path d="M812.1 1709.9V1747.1M793.5 1728.5H830.7" fill="none" stroke="#000" stroke-width="2.3"/>
<path d="M888.1 1975.6V2012.8M869.5 1994.2H906.7" fill="none" stroke="#000" stroke-width="2.3"/>
<path d="M933.3 1983.9V2021.1M914.7 2002.5H951.9" fill="none" stroke="#000" stroke-width="2.3"/>
<path d="M997.2 2048.2V2085.4M978.6 2066.8H1015.8" fill="none" stroke="#000" stroke-width="2.3"/>
<path d="M998 2058.6V2095.8M979.4 2077.2H1016.6" fill="none" stroke="#000" stroke-width="2.3"/>
<path d="M1316.2 2146.4V2183.6M1297.6 2165H1334.8" fill="none" stroke="#000" stroke-width="2.3"/>
<path d="M1349.6 2144.4V2181.6M1331 2163H1368.2" fill="none" stroke="#000" stroke-width="2.3"/>
<path d="M1328.9 2173.4V2210.6M1310.3 2192H1347.5" fill="none" stroke="#000" stroke-width="2.3"/>
<path d="M1473.4 2170.3V2207.5M1454.8 2188.9H1492" fill="none" stroke="#000" stroke-width="2.3"/>
<path d="M1452.9 2300.3V2337.5M1434.3 2318.9H1471.5" fill="none" stroke="#000" stroke-width="2.3"/>
<path d="M1379.5 2267.1V2304.3M1360.9 2285.7H1398.1" fill="none" stroke="#000" stroke-width="2.3"/>
<path d="M1347 2280.2V2317.4M1328.4 2298.8H1365.6" fill="none" stroke="#000" stroke-width="2.3"/>
<path d="M1341.8 2298.9V2336.1M1323.2 2317.5H1360.4" fill="none" stroke="#000" stroke-width="2.3"/>
<path d="M1333.5 2323.7V2360.9M1314.9 2342.3H1352.1" fill="none" stroke="#000" stroke-width="2.3"/>
<path d="M1349.6 2316.1V2353.3M1331 2334.7H1368.2" fill="none" stroke="#000" stroke-width="2.3"/>
<path d="M1368.3 2335.1V2372.3M1349.7 2353.7H1386.9" fill="none" stroke="#000" stroke-width="2.3"/>
<path d="M1345.9 2338.2V2375.4M1327.3 2356.8H1364.5" fill="none" stroke="#000" stroke-width="2.3"/>
<path d="M574.3 1598.5L611.5 1635.7M574.3 1635.7L611.5 1598.5" fill="none" stroke="#000" stroke-width="2.3"/>
<path d="M625.7 1595.4L662.9 1632.6M625.7 1632.6L662.9 1595.4" fill="none" stroke="#000" stroke-width="2.3"/>
<path d="M683.6 1579.2L720.8 1616.4M683.6 1616.4L720.8 1579.2" fill="none" stroke="#000" stroke-width="2.3"/>
<path d="M693.9 1589.6L731.1 1626.8M693.9 1626.8L731.1 1589.6" fill="none" stroke="#000" stroke-width="2.3"/>
<path d="M785.8 1710.5L823 1747.7M785.8 1747.7L823 1710.5" fill="none" stroke="#000" stroke-width="2.3"/>
<path d="M609.6 1734.6L646.8 1771.8M609.6 1771.8L646.8 1734.6" fill="none" stroke="#000" stroke-width="2.3"/>
<path d="M646.5 1769.2L683.7 1806.4M646.5 1806.4L683.7 1769.2" fill="none" stroke="#000" stroke-width="2.3"/>
<path d="M875.8 1715.8L913 1753M875.8 1753L913 1715.8" fill="none" stroke="#000" stroke-width="2.3"/>
<path d="M945.8 1936.4L983 1973.6M945.8 1973.6L983 1936.4" fill="none" stroke="#000" stroke-width="2.3"/>
<path d="M857.7 1954.4L894.9 1991.6M857.7 1991.6L894.9 1954.4" fill="none" stroke="#000" stroke-width="2.3"/>
<path d="M897.1 1968.4L934.3 2005.6M897.1 2005.6L934.3 1968.4" fill="none" stroke="#000" stroke-width="2.3"/>
<path d="M911.2 2023.3L948.4 2060.5M911.2 2060.5L948.4 2023.3" fill="none" stroke="#000" stroke-width="2.3"/>
<path d="M1261 2104.8L1298.2 2142M1261 2142L1298.2 2104.8" fill="none" stroke="#000" stroke-width="2.3"/>
<path d="M1194.7 2131.8L1231.9 2169M1194.7 2169L1231.9 2131.8" fill="none" stroke="#000" stroke-width="2.3"/>
<path d="M1211.8 2148.2L1249 2185.4M1211.8 2185.4L1249 2148.2" fill="none" stroke="#000" stroke-width="2.3"/>
<path d="M1374.5 2074.4L1411.7 2111.6M1374.5 2111.6L1411.7 2074.4" fill="none" stroke="#000" stroke-width="2.3"/>
<path d="M1327.9 2252.2L1365.1 2289.4M1327.9 2289.4L1365.1 2252.2" fill="none" stroke="#000" stroke-width="2.3"/>
<path d="M1350.1 2260.5L1387.3 2297.7M1350.1 2297.7L1387.3 2260.5" fill="none" stroke="#000" stroke-width="2.3"/>
<path d="M1302.4 2272.9L1339.6 2310.1M1302.4 2310.1L1339.6 2272.9" fill="none" stroke="#000" stroke-width="2.3"/>
<path d="M1297.2 2280.2L1334.4 2317.4M1297.2 2317.4L1334.4 2280.2" fill="none" stroke="#000" stroke-width="2.3"/>
<path d="M1287.9 2296.8L1325.1 2334M1287.9 2334L1325.1 2296.8" fill="none" stroke="#000" stroke-width="2.3"/>
<path d="M1304.5 2334.1L1341.7 2371.3M1304.5 2371.3L1341.7 2334.1" fill="none" stroke="#000" stroke-width="2.3"/>
<path d="M1320 2308.2L1357.2 2345.4M1320 2345.4L1357.2 2308.2" fill="none" stroke="#000" stroke-width="2.3"/>
<circle cx="636.9" cy="1639.7" r="19.8" fill="#000"/>
<circle cx="685.8" cy="1732.5" r="19.8" fill="#000"/>
<circle cx="688.1" cy="1745.7" r="19.8" fill="#000"/>
<circle cx="721.9" cy="1705.8" r="19.8" fill="#000"/>
<circle cx="831.8" cy="1687" r="19.8" fill="#000"/>
<circle cx="921.2" cy="1756.1" r="19.8" fill="#000"/>
<circle cx="917" cy="1765.5" r="19.8" fill="#000"/>
<circle cx="925" cy="2010.8" r="19.8" fill="#000"/>
<circle cx="981.4" cy="2050.8" r="19.8" fill="#000"/>
<circle cx="1100.3" cy="2030.1" r="19.8" fill="#000"/>
<circle cx="1250.5" cy="2100.7" r="19.8" fill="#000"/>
<circle cx="1323.3" cy="2057.8" r="19.8" fill="#000"/>
<circle cx="1403.4" cy="2183.1" r="19.8" fill="#000"/>
<circle cx="1434" cy="2221" r="19.8" fill="#000"/>
<circle cx="1504.5" cy="2216.9" r="19.8" fill="#000"/>
<circle cx="1498.7" cy="2249" r="19.8" fill="#000"/>
<circle cx="1654.1" cy="2223" r="19.8" fill="#000"/>
<circle cx="1640.4" cy="2275.4" r="19.8" fill="#000"/>
<circle cx="1598.9" cy="2303.8" r="19.8" fill="#000"/>
<circle cx="1571.1" cy="2359.8" r="19.8" fill="#000"/>
<circle cx="1626.9" cy="2351.5" r="19.8" fill="#000"/>
<circle cx="1714.6" cy="2370.2" r="19.8" fill="#000"/>
<circle cx="1809" cy="2378.5" r="19.8" fill="#000"/>
<circle cx="1629" cy="2407.5" r="19.8" fill="#000"/>
<path d="M591.2 1627.4L612 1643.2M627.3 1654.8L648.1 1670.6M663.4 1682.2L684.2 1697.9M699.5 1709.6L720.3 1725.3M735.6 1736.9L756.4 1752.7M771.7 1764.3L792.5 1780.1M807.8 1791.7L828.6 1807.5M843.9 1819.1L864.7 1834.8M880 1846.4L900.8 1862.2M916.1 1873.8L936.9 1889.6M952.2 1901.2L973 1917M988.3 1928.6L1009.1 1944.4M1024.4 1956L1045.2 1971.7M1060.5 1983.3L1081.3 1999.1M1096.6 2010.7L1117.4 2026.5M1132.7 2038.1L1153.5 2053.9M1168.8 2065.5L1189.6 2081.2M1204.9 2092.8L1225.7 2108.6M1241 2120.2L1261.8 2136M1277.1 2147.6L1297.9 2163.4M1313.2 2175L1334 2190.8M1349.3 2202.4L1370.1 2218.1M1385.4 2229.7L1406.2 2245.5M1421.5 2257.1L1442.3 2272.9M1457.6 2284.5L1478.4 2300.3M1493.7 2311.9L1514.5 2327.6M1529.8 2339.3L1550.6 2355M1565.9 2366.6L1586.7 2382.4M1602 2394L1622.8 2409.8M1638.1 2421.4L1658.9 2437.2M1670.6 2446.1L1690.2 2460.9M1703.8 2471.2L1723.4 2486M1737.3 2496.6L1756.7 2511.3M1768.9 2520.6L1787.3 2534.5M1798.9 2543.3L1811.1 2552.6" fill="none" stroke="#000" stroke-width="8.4" stroke-linecap="round"/>
<line x1="277.1" y1="1857.2" x2="2108.9" y2="1845.4" stroke="#000" stroke-width="11.5" stroke-dasharray="44.2 33.5"/>
<line x1="288.1" y1="2115.2" x2="2103.4" y2="2112.1" stroke="#000" stroke-width="11.5" stroke-dasharray="44.2 33.5"/>
<text class="a" font-size="100" transform="translate(345.07,331.80) scale(1.1000,1.1316)">DRY</text>
<text class="a" font-size="100" transform="translate(352.53,1070.00) scale(1.0813,1.1302)">WET</text>
<text class="a" font-size="100" transform="translate(587.39,945.30) scale(0.6779,0.7200)">y = -112.3ln(x) - 399.04</text>
<text class="a" font-size="100" transform="translate(785.01,1022.30) scale(0.6806,0.7069)">R² = 0.842</text>
<text class="a" font-size="100" transform="translate(1787.15,137.70) scale(0.7635,0.7884)">CPO</text>
<text class="a" font-size="100" transform="translate(1791.08,239.80) scale(0.7549,0.7884)">1.5% B</text>
<text class="a" font-size="100" transform="translate(1790.07,343.80) scale(0.7547,0.7884)">4% B</text>
<text class="a" font-size="100" transform="translate(1779.56,459.60) scale(0.7518,0.7884)">8% B</text>
<text class="a" font-size="100" transform="translate(2097.50,203.80) scale(1.5198,1.5292)">(a)</text>
<text class="a" font-size="100" transform="translate(115.00,940.40) rotate(-90) scale(0.7411,0.7898)">E</text>
<text class="a" font-size="100" transform="translate(134.10,890.95) rotate(-90) scale(0.5127,0.5042)">corr</text>
<text class="a" font-size="100" transform="translate(115.00,750.77) rotate(-90) scale(0.7533,0.7898)">( mV vs CSE)</text>
<text class="a" font-size="100" transform="translate(942.35,1337.70) scale(0.8073,0.7434)">i</text>
<text class="a" font-size="100" transform="translate(963.57,1356.80) scale(0.5085,0.5042)">corr</text>
<text class="a" font-size="100" transform="translate(1082.75,1337.70) scale(0.7509,0.7811)">(μA/cm</text>
<text class="a" font-size="100" transform="translate(1336.08,1316.10) scale(0.5187,0.5161)">2</text>
<text class="a" font-size="100" transform="translate(1367.33,1337.70) scale(0.6679,0.7811)">)</text>
<text class="a" font-size="100" transform="translate(345.49,1764.90) scale(1.0985,1.1360)">DRY</text>
<text class="a" font-size="100" transform="translate(352.43,2492.60) scale(1.0822,1.1345)">WET</text>
<text class="a" font-size="100" transform="translate(490.59,2354.70) scale(0.6786,0.7040)">y = -113.8ln(x) - 455.03</text>
<text class="a" font-size="100" transform="translate(670.33,2432.40) scale(0.6763,0.6880)">R² = 0.8625</text>
<text class="a" font-size="100" transform="translate(1772.06,1527.70) scale(0.7592,0.7884)">CPO</text>
<text class="a" font-size="100" transform="translate(1741.06,1630.70) scale(0.7599,0.7855)">42% B</text>
<text class="a" font-size="100" transform="translate(1730.52,1724.30) scale(0.7651,0.7855)">95% B</text>
<text class="a" font-size="100" transform="translate(2098.09,1555.70) scale(1.5210,1.5271)">(b)</text>
<text class="a" font-size="100" transform="translate(113.80,2339.24) rotate(-90) scale(0.7321,0.7855)">E</text>
<text class="a" font-size="100" transform="translate(133.80,2290.54) rotate(-90) scale(0.5111,0.5135)">corr</text>
<text class="a" font-size="100" transform="translate(113.80,2149.46) rotate(-90) scale(0.7530,0.7855)">( mV vs CSE)</text>
<text class="a" font-size="100" transform="translate(960.95,2746.80) scale(0.8073,0.7434)">i</text>
<text class="a" font-size="100" transform="translate(982.17,2765.90) scale(0.5085,0.5042)">corr</text>
<text class="a" font-size="100" transform="translate(1101.35,2746.80) scale(0.7509,0.7811)">(μA/cm</text>
<text class="a" font-size="100" transform="translate(1354.68,2725.20) scale(0.5187,0.5161)">2</text>
<text class="a" font-size="100" transform="translate(1385.93,2746.80) scale(0.6679,0.7811)">)</text>
<circle cx="1655.4" cy="107.7" r="20.8" fill="#000"/>
<path d="M1660.3 191.1L1679.8 228.1L1640.8 228.1Z" fill="none" stroke="#000" stroke-width="2.3" stroke-miterlimit="10"/>
<path d="M1666.3 294.8V334.4M1646.5 294.8L1686.1 334.4M1646.5 334.4L1686.1 294.8" fill="none" stroke="#000" stroke-width="2.3"/>
<circle cx="1659.4" cy="424.8" r="19.5" fill="none" stroke="#000" stroke-width="2.3"/>
<circle cx="1639.3" cy="1498.5" r="21.2" fill="#000"/>
<path d="M1633.6 1564.3V1604.3M1613.6 1584.3H1653.6" fill="none" stroke="#000" stroke-width="2.3"/>
<path d="M1614.2 1662.3L1654.8 1702.9M1614.2 1702.9L1654.8 1662.3" fill="none" stroke="#000" stroke-width="2.3"/>
</svg></body></html>
